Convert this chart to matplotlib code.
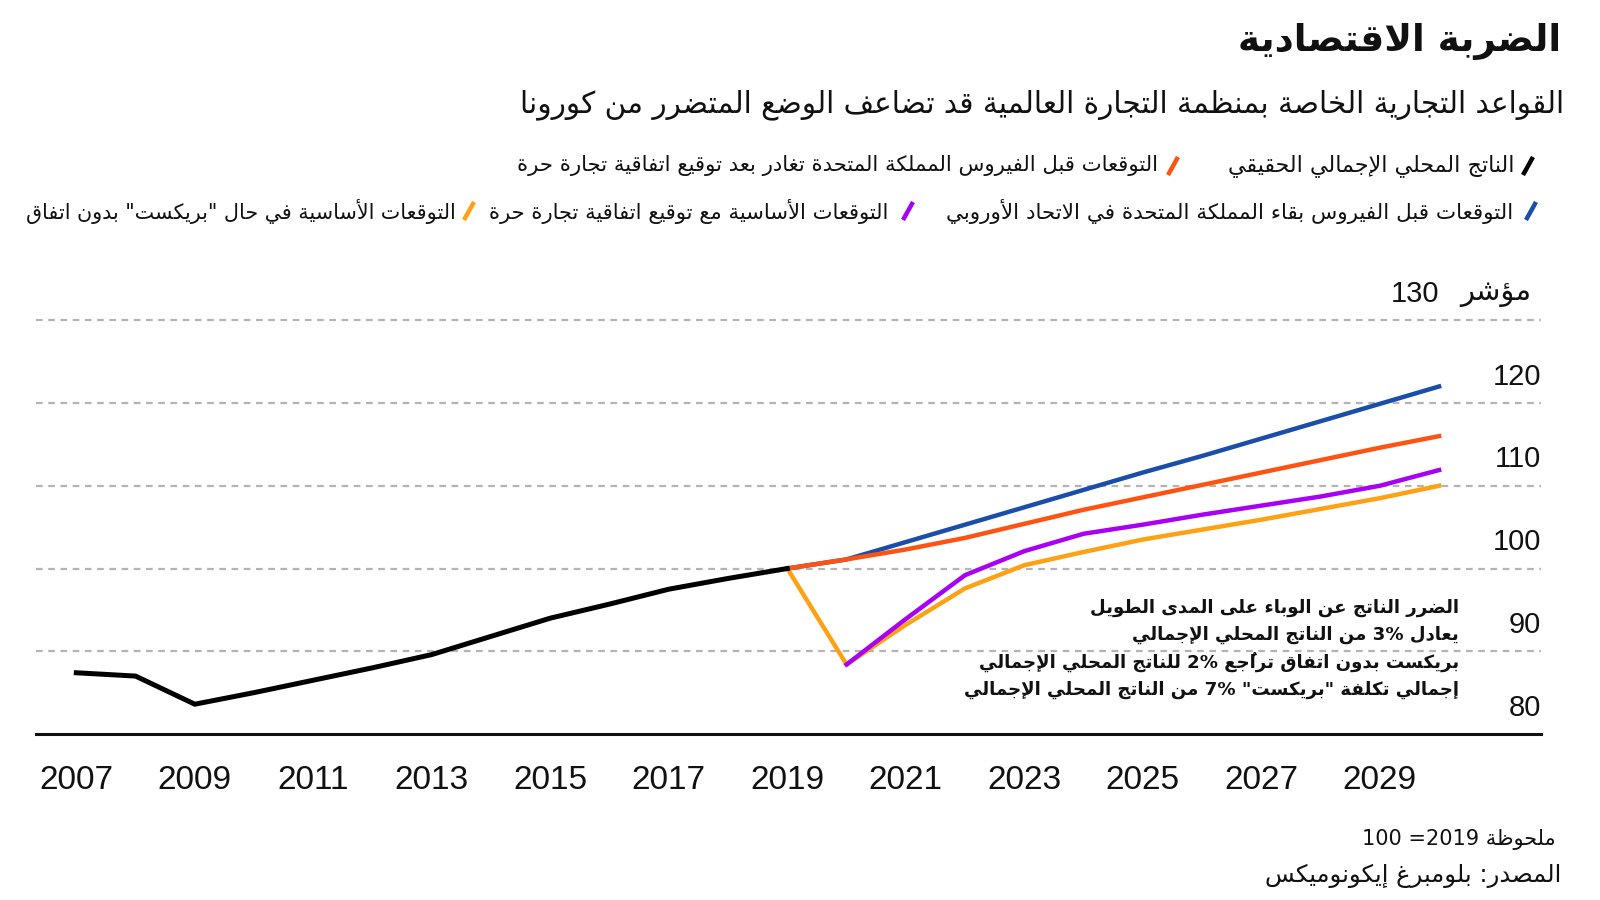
import re
import matplotlib
matplotlib.use('Agg')
import matplotlib.pyplot as plt
from matplotlib.lines import Line2D
import matplotlib.transforms as mtransforms

# data (index, 2019 = 100)
years_actual = [2007, 2008, 2009, 2010, 2011, 2012, 2013, 2014, 2015, 2016, 2017, 2018, 2019]
gdp_actual = [87.4, 87.0, 83.6, 85.0, 86.5, 88.0, 89.6, 91.8, 94.0, 95.7, 97.5, 98.8, 100.0]

years_fc = [2019, 2020, 2021, 2022, 2023, 2024, 2025, 2026, 2027, 2028, 2029, 2030]
remain_eu = [100.0, 101.1, 103.2, 105.3, 107.4, 109.5, 111.6, 113.6, 115.7, 117.8, 119.9, 122.0]
leave_fta = [100.0, 101.1, 102.3, 103.7, 105.4, 107.1, 108.6, 110.1, 111.6, 113.1, 114.6, 116.0]
no_deal = [100.0, 88.4, 93.2, 97.6, 100.4, 102.0, 103.5, 104.7, 105.9, 107.2, 108.5, 110.0]

years_base = [2020, 2021, 2022, 2023, 2024, 2025, 2026, 2027, 2028, 2029, 2030]
base_fta = [88.4, 93.9, 99.2, 102.1, 104.2, 105.3, 106.5, 107.6, 108.7, 110.0, 111.9]

year_ticks = [2007, 2009, 2011, 2013, 2015, 2017, 2019, 2021, 2023, 2025, 2027, 2029]
y_ticks = [80, 90, 100, 110, 120, 130]

title = "الضربة الاقتصادية"
subtitle = "القواعد التجارية الخاصة بمنظمة التجارة العالمية قد تضاعف الوضع المتضرر من كورونا"
lab_actual = "الناتج المحلي الإجمالي الحقيقي"
lab_leave = "التوقعات قبل الفيروس المملكة المتحدة تغادر بعد توقيع اتفاقية تجارة حرة"
lab_remain = "التوقعات قبل الفيروس بقاء المملكة المتحدة في الاتحاد الأوروبي"
lab_base = "التوقعات الأساسية مع توقيع اتفاقية تجارة حرة"
lab_nodeal = 'التوقعات الأساسية في حال "بريكست" بدون اتفاق'
notes = ["الضرر الناتج عن الوباء على المدى الطويل",
         "يعادل 3% من الناتج المحلي الإجمالي",
         "بريكست بدون اتفاق تراجُع 2% للناتج المحلي الإجمالي",
         'إجمالي تكلفة "بريكست" 7% من الناتج المحلي الإجمالي']
unit = "مؤشر"
note = "ملحوظة 2019= 100"
source = "المصدر: بلومبرغ إيكونوميكس"

BLACK = '#000000'
ORANGE = '#ff5314'
BLUE = '#1a4eaa'
PURPLE = '#a700f5'
YELLOW = '#ffa114'

# --- minimal arabic shaping + rtl ordering (no arabic_reshaper available) ---
AR = {0x621: (0xFE80, 1), 0x622: (0xFE81, 2), 0x623: (0xFE83, 2), 0x624: (0xFE85, 2),
      0x625: (0xFE87, 2), 0x626: (0xFE89, 4), 0x627: (0xFE8D, 2), 0x628: (0xFE8F, 4),
      0x629: (0xFE93, 2), 0x62A: (0xFE95, 4), 0x62B: (0xFE99, 4), 0x62C: (0xFE9D, 4),
      0x62D: (0xFEA1, 4), 0x62E: (0xFEA5, 4), 0x62F: (0xFEA9, 2), 0x630: (0xFEAB, 2),
      0x631: (0xFEAD, 2), 0x632: (0xFEAF, 2), 0x633: (0xFEB1, 4), 0x634: (0xFEB5, 4),
      0x635: (0xFEB9, 4), 0x636: (0xFEBD, 4), 0x637: (0xFEC1, 4), 0x638: (0xFEC5, 4),
      0x639: (0xFEC9, 4), 0x63A: (0xFECD, 4), 0x641: (0xFED1, 4), 0x642: (0xFED5, 4),
      0x643: (0xFED9, 4), 0x644: (0xFEDD, 4), 0x645: (0xFEE1, 4), 0x646: (0xFEE5, 4),
      0x647: (0xFEE9, 4), 0x648: (0xFEED, 2), 0x649: (0xFEEF, 2), 0x64A: (0xFEF1, 4)}
LAM_ALEF = {0x622: 0xFEF5, 0x623: 0xFEF7, 0x625: 0xFEF9, 0x627: 0xFEFB}
MARKS = set(range(0x64B, 0x653))


def shape(s):
    cs = list(s)
    n = len(cs)

    def nb(i, step):
        j = i + step
        while 0 <= j < n and ord(cs[j]) in MARKS:
            j += step
        return cs[j] if 0 <= j < n else None

    out = []
    i = 0
    while i < n:
        o = ord(cs[i])
        if o not in AR:
            out.append(cs[i])
            i += 1
            continue
        p = nb(i, -1)
        nx = nb(i, 1)
        jp = p is not None and ord(p) in AR and AR[ord(p)][1] == 4
        if o == 0x644 and nx is not None and ord(nx) in LAM_ALEF:
            out.append(chr(LAM_ALEF[ord(nx)] + (1 if jp else 0)))
            j = i + 1
            while ord(cs[j]) in MARKS:
                out.append(cs[j])
                j += 1
            i = j + 1
            continue
        base, nf = AR[o]
        jn = nf == 4 and nx is not None and ord(nx) in AR and AR[ord(nx)][1] > 1
        if nf == 1:
            f = base
        elif jp and jn:
            f = base + 3
        elif jp:
            f = base + 1
        elif jn:
            f = base + 2
        else:
            f = base
        out.append(chr(f))
        i += 1
    return ''.join(out)


def rev_run(p):
    clusters = []
    for c in p:
        if ord(c) in MARKS and clusters:
            clusters[-1] += c
        else:
            clusters.append(c)
    return ''.join(reversed(clusters))


def ar(s):
    parts = re.findall(r'[0-9]+%?|[^0-9]+', shape(s))
    return ''.join(p if p[0].isdigit() else rev_run(p) for p in reversed(parts))


# --- figure ---
W, H = 1600, 900
fig = plt.figure(figsize=(16, 9), dpi=100)
fig.patch.set_facecolor('white')


def P(x, y):
    return x / W, 1 - y / H


def ftext(x, y, s, size, bold=False, ha='right', color='#111111', family='DejaVu Sans'):
    return fig.text(*P(x, y), s, fontsize=size, ha=ha, va='center', color=color,
                    fontweight='bold' if bold else 'normal', family=family)


def fit(t, width):
    r = fig.canvas.get_renderer()
    w = t.get_window_extent(r).width
    t.set_fontsize(t.get_fontsize() * width / w)
    return t.get_fontsize()


def slash(x, y, color):
    x0, y0 = P(x - 5, y + 9)
    x1, y1 = P(x + 5, y - 9)
    fig.add_artist(Line2D([x0, x1], [y0, y1], transform=fig.transFigure,
                          color=color, lw=3.2, solid_capstyle='butt'))


ax_l, ax_r, ax_top, ax_bot = 36, 1541, 312, 734
ax = fig.add_axes([ax_l / W, 1 - ax_bot / H, (ax_r - ax_l) / W, (ax_bot - ax_top) / H])
ax.set_xlim(2006.32, 2031.72)
ax.set_ylim(80, 131)

for v in y_ticks[1:]:
    ax.axhline(v, color='#b4b4b4', lw=1.6, ls=(0, (3, 2.5)), zorder=1)

ax.plot(years_actual, gdp_actual, color=BLACK, lw=3.6, zorder=5, solid_joinstyle='miter')
ax.plot(years_fc, remain_eu, color=BLUE, lw=3.2, zorder=3)
ax.plot(years_fc, leave_fta, color=ORANGE, lw=3.2, zorder=4)
ax.plot(years_fc, no_deal, color=YELLOW, lw=3.2, zorder=3)
ax.plot(years_base, base_fta, color=PURPLE, lw=3.2, zorder=4)

for s in ['top', 'left', 'right']:
    ax.spines[s].set_visible(False)
ax.spines['bottom'].set_linewidth(2.2)
ax.spines['bottom'].set_color('#111111')
ax.set_yticks([])
ax.set_xticks(year_ticks)
ax.set_xticklabels([str(y) for y in year_ticks], family='Liberation Sans', fontsize=24, color='#111111')
ax.tick_params(axis='x', length=0, pad=22)

# y labels sit above their gridline, at the right edge
off = mtransforms.offset_copy(ax.transData, fig=fig, x=0, y=19, units='points')
for v in y_ticks[:-1]:
    ax.text(ax.get_xlim()[1], v, str(v), transform=off, ha='right', va='center',
            fontsize=21, family='Liberation Sans', color='#111111')
ax.text(2030.0, 130, str(y_ticks[-1]), transform=off, ha='right', va='center',
        fontsize=21, family='Liberation Sans', color='#111111')
ftext(1531, 293, ar(unit), 21)

# titles
t = ftext(1561, 41, ar(title), 30, bold=True)
fit(t, 324)
t = ftext(1564, 105, ar(subtitle), 20)
fit(t, 1046)

# legend, each item sized to the span it has in the reference
legend_items = [(1515, 166, lab_actual, 288, BLACK, 1528),
                (1158, 166, lab_leave, 645, ORANGE, 1173),
                (1513, 211, lab_remain, 569, BLUE, 1531),
                (888, 211, lab_base, 401, PURPLE, 908),
                (456, 211, lab_nodeal, 429, YELLOW, 469)]
for x, y, s, w, c, sx in legend_items:
    t = ftext(x, y, ar(s), 15)
    fit(t, w)
    slash(sx, y, c)

# annotation
t = ftext(1459, 608, ar(notes[0]), 15, bold=True)
fs = fit(t, 370)
for y, s in zip([635, 662, 690], notes[1:]):
    ftext(1459, y, ar(s), fs, bold=True)

# footer
ftext(1556, 840, ar(note), 15)
t = ftext(1561, 876, ar(source), 15)
fit(t, 296)

plt.savefig('out.png', dpi=100, facecolor='white')
